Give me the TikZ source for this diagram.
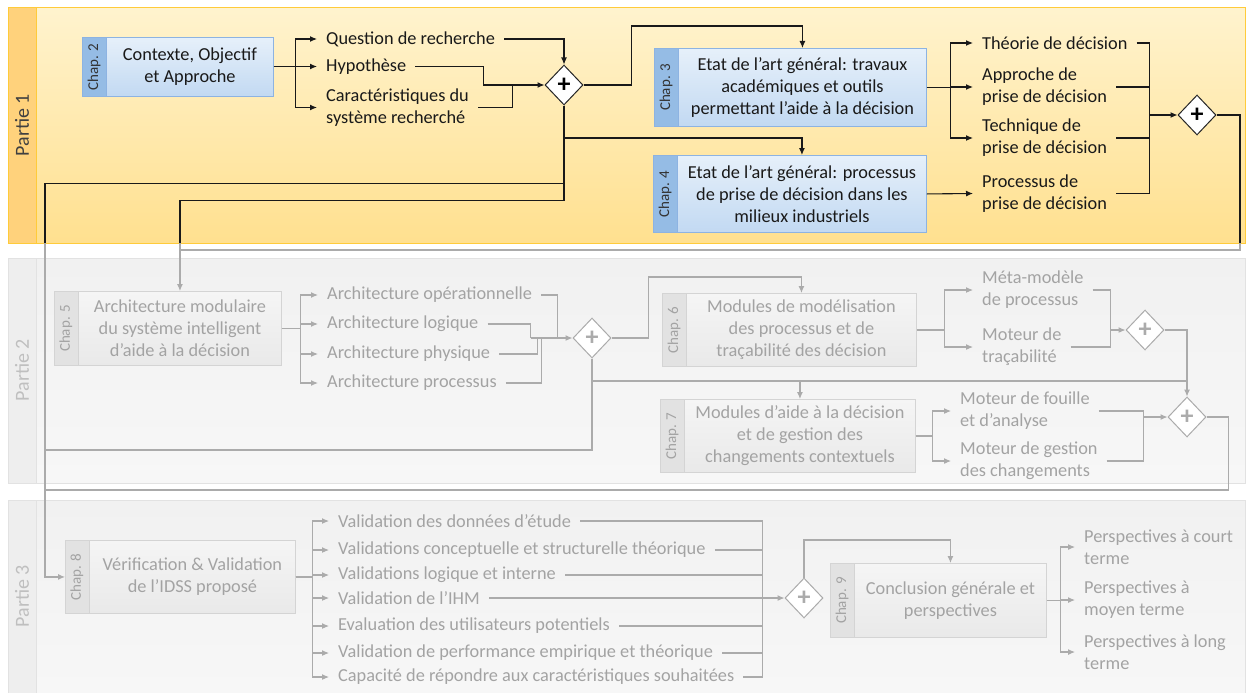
\documentclass[tikz,border=0pt]{standalone}
\usepackage{fontspec}
\setmainfont{Carlito}
\usetikzlibrary{arrows.meta,shapes.geometric,calc}
\definecolor{p1top}{HTML}{FFF3CE}
\definecolor{p1bot}{HTML}{FFE08F}
\definecolor{p1head}{HTML}{FFD27C}
\definecolor{p1edge}{HTML}{FFCB3A}
\definecolor{btop}{HTML}{E6F0FA}
\definecolor{bbot}{HTML}{C2D9F2}
\definecolor{bedge}{HTML}{8DB3E2}
\definecolor{bstrip}{HTML}{95BCE5}
\definecolor{gbandtop}{HTML}{F1F1F1}
\definecolor{gbandbot}{HTML}{F7F7F7}
\definecolor{ghead}{HTML}{EEEEEE}
\definecolor{gedge}{HTML}{E2E2E2}
\definecolor{gtxt}{HTML}{A3A3A3}
\definecolor{gline}{HTML}{ABABAB}
\definecolor{gboxtop}{HTML}{F5F5F5}
\definecolor{gboxbot}{HTML}{E9E9E9}
\definecolor{gboxedge}{HTML}{D4D4D4}
\definecolor{gstrip}{HTML}{E2E2E2}
\definecolor{ptxt}{HTML}{BFBFBF}
\newcommand\chapbox[8]{%
  \node[bx#8, minimum width=#4, minimum height=#5] (#1) at (#2,#3) {};
  \path[strip#8] (#1.north west) rectangle ([xshift=24pt]#1.south west);
  \node[chap#8] (#1c) at ($(#1.west)+(12,0)$) {Chap. #6};
  \node[btxt#8] (#1t) at ($(#1.center)+(12,0)$) {#7};
}
\begin{document}
\begin{tikzpicture}[x=1pt,y=-1pt,
  band1/.style={top color=p1top, bottom color=p1bot, draw=p1edge, line width=1pt},
  head1/.style={fill=p1head, draw=p1edge, line width=1pt},
  band2/.style={top color=gbandtop, bottom color=gbandbot, draw=gedge, line width=1pt},
  head2/.style={fill=ghead, draw=gedge, line width=1pt},
  ptitle1/.style={rotate=90, font=\fontsize{20}{20}\selectfont, text=black!75},
  ptitle2/.style={rotate=90, font=\fontsize{20}{20}\selectfont, text=ptxt},
  bx1/.style={draw=bedge, top color=btop, bottom color=bbot, line width=0.9pt, inner sep=0pt, anchor=north west},
  bx2/.style={draw=gboxedge, top color=gboxtop, bottom color=gboxbot, line width=0.9pt, inner sep=0pt, anchor=north west},
  strip1/.style={fill=bstrip, draw=bedge, line width=0.9pt},
  strip2/.style={fill=gstrip, draw=gboxedge, line width=0.9pt},
  chap1/.style={rotate=90, inner sep=0pt, font=\fontsize{15}{15}\selectfont, text=black!80},
  chap2/.style={rotate=90, inner sep=0pt, font=\fontsize{15}{15}\selectfont, text=gtxt},
  btxt1/.style={align=center, inner sep=0pt, font=\fontsize{18.3}{22}\selectfont, text=black!90},
  btxt2/.style={align=center, inner sep=0pt, font=\fontsize{18.3}{22}\selectfont, text=gtxt},
  it1/.style={anchor=west, align=left, inner sep=0pt, font=\fontsize{18.3}{22}\selectfont, text=black!90},
  it2/.style={anchor=west, align=left, inner sep=0pt, font=\fontsize{18.3}{22}\selectfont, text=gtxt},
  gate1/.style={diamond, draw=black!85, fill=white, line width=1pt, minimum width=38, minimum height=40, inner sep=0pt, font=\fontsize{26}{26}\selectfont\bfseries, text=black},
  gate2/.style={diamond, draw=gline, fill=white, line width=1pt, minimum width=38, minimum height=40, inner sep=0pt, font=\fontsize{26}{26}\selectfont\bfseries, text=gline},
  l1/.style={draw=black!90, line width=1.1pt},
  a1/.style={l1, -{Latex[length=7pt,width=6pt]}},
  l2/.style={draw=gline, line width=1.1pt},
  a2/.style={l2, -{Latex[length=7pt,width=6pt]}}
]
\useasboundingbox (0,0) rectangle (1247,693);
% ---------- bands ----------
\path[band1] (8,8) rectangle (1245,243);
\path[head1] (8,8) rectangle (36,243);
\node[ptitle1] (P1) at (22,125) {Partie 1};
\path[band2] (8,258) rectangle (1245,483);
\path[head2] (8,258) rectangle (36,483);
\node[ptitle2] (P2) at (22,370) {Partie 2};
\path[band2] (8,500) rectangle (1245,693);
\path[head2] (8,500) rectangle (36,693);
\node[ptitle2] (P3) at (22,596) {Partie 3};
% ---------- chapter boxes ----------
\chapbox{c2}{82}{37}{191}{59}{2}{Contexte, Objectif\\et Approche}{1}
\chapbox{c3}{654}{48}{272}{78}{3}{Etat de l’art général: travaux\\académiques et outils\\permettant l’aide à la décision}{1}
\chapbox{c4}{653}{155}{273}{77}{4}{Etat de l’art général: processus\\de prise de décision dans les\\milieux industriels}{1}
\chapbox{c5}{54}{291}{227}{74}{5}{Architecture modulaire\\du système intelligent\\d’aide à la décision}{2}
\chapbox{c6}{662}{293}{254}{73}{6}{Modules de modélisation\\des processus et de\\traçabilité des décision}{2}
\chapbox{c7}{660}{399}{255}{73}{7}{Modules d’aide à la décision\\et de gestion des\\changements contextuels}{2}
\chapbox{c8}{65}{540}{230}{73}{8}{Vérification \& Validation\\de l’IDSS proposé}{2}
\chapbox{c9}{830}{563}{216}{74}{9}{Conclusion générale et\\perspectives}{2}
% ---------- items ----------
\node[it1] (qr) at (326,39) {Question de recherche};
\node[it1] (hy) at (326,66.5) {Hypothèse};
\node[it1] (ca) at (326,107.5) {Caractéristiques du\\système recherché};
\node[it1] (th) at (982,43) {Théorie de décision};
\node[it1] (ap) at (982,87) {Approche de\\prise de décision};
\node[it1] (te) at (982,138) {Technique de\\prise de décision};
\node[it1] (pr) at (982,193.5) {Processus de\\prise de décision};
\node[it2] (op) at (327,295) {Architecture opérationnelle};
\node[it2] (lo) at (327,324) {Architecture logique};
\node[it2] (ph) at (327,354) {Architecture physique};
\node[it2] (ps) at (327,383) {Architecture processus};
\node[it2] (mm) at (982,290) {Méta-modèle\\de processus};
\node[it2] (mt) at (982,347) {Moteur de\\traçabilité};
\node[it2] (mf) at (960,411) {Moteur de fouille\\et d’analyse};
\node[it2] (mg) at (960,461) {Moteur de gestion\\des changements};
\node[it2] (v1) at (338,521) {Validation des données d’étude};
\node[it2] (v2) at (338,550) {Validations conceptuelle et structurelle théorique};
\node[it2] (v3) at (338,575) {Validations logique et interne};
\node[it2] (v4) at (338,598) {Validation de l’IHM};
\node[it2] (v5) at (338,626) {Evaluation des utilisateurs potentiels};
\node[it2] (v6) at (338,653) {Validation de performance empirique et théorique};
\node[it2] (v7) at (338,677) {Capacité de répondre aux caractéristiques souhaitées};
\node[it2] (pc) at (1084,547) {Perspectives à court\\terme};
\node[it2] (pm) at (1084,600) {Perspectives à\\moyen terme};
\node[it2] (pl) at (1084,652) {Perspectives à long\\terme};
% ---------- gateways ----------
\node[gate1] (g1) at (564,85) {+};
\node[gate1] (g2) at (1197,115) {+};
\node[gate2] (g3) at (592,338) {+};
\node[gate2] (g4) at (1145,330) {+};
\node[gate2] (g5) at (1187,417) {+};
\node[gate2] (g6) at (804,598) {+};
% ---------- Partie 1 connectors ----------
\draw[a1] (c2.east) -- ++(22,0) |- ([xshift=-9pt]qr.west);
\draw[a1] (c2.east) -- ++(22,0) |- ([xshift=-9pt]hy.west);
\draw[a1] (c2.east) -- ++(22,0) |- ([xshift=-9pt]ca.west);
\draw[a1] ([xshift=9pt]qr.east) -| (g1.north);
\draw[a1] ([xshift=9pt]hy.east) -| ($(g1.west)+(-61,0)$) -- (g1.west);
\draw[l1] ([xshift=9pt]ca.east) -| ($(g1.west)+(-32,0)$);
\draw[a1] (g1.east) -- ++(48,0) |- ($(c3t|-c3.north)+(0,-22)$) -- (c3t|-c3.north);
\draw[a1] (g1.south) |- ($(c4t|-c4.north)+(0,-17)$) -- (c4t|-c4.north);
\coordinate (k1) at (45,243);
\coordinate (k2) at (c5t|-k1);
\coordinate (k3) at (1240,243);
\draw[l1] (g1.south) -- ++(0,78) -| (k1);
\draw[l1] (g1.south) -- ++(0,95) -| (k2);
\draw[a1] (c3.east) -- ++(24,0) |- ([xshift=-9pt]th.west);
\draw[a1] (c3.east) -- ++(24,0) |- ([xshift=-9pt]ap.west);
\draw[a1] (c3.east) -- ++(24,0) |- ([xshift=-9pt]te.west);
\draw[a1] (c4.east) -- ([xshift=-9pt]pr.west);
\coordinate (m2) at ($(g2.west)+(-28,0)$);
\draw[l1] ([xshift=9pt]th.east) -| (m2);
\draw[l1] ([xshift=9pt]ap.east) -| (m2);
\draw[l1] ([xshift=9pt]te.east) -| (m2);
\draw[l1] ([xshift=9pt]pr.east) -| (m2);
\draw[a1] (m2) -- (g2.west);
\draw[l1] (g2.east) -| (k3);
% ---------- links leaving Partie 1 ----------
\draw[l2] (k3) |- ($(k2)+(0,7)$);
\draw[a2] (k2) -- (c5t|-c5.north);
\draw[a2] (k1) |- (c8.west);
% ---------- Partie 2 connectors ----------
\draw[a2] (c5.east) -- ++(19,0) |- ([xshift=-9pt]op.west);
\draw[a2] (c5.east) -- ++(19,0) |- ([xshift=-9pt]lo.west);
\draw[a2] (c5.east) -- ++(19,0) |- ([xshift=-9pt]ph.west);
\draw[a2] (c5.east) -- ++(19,0) |- ([xshift=-9pt]ps.west);
\draw[l2] ([xshift=9pt]op.east) -| ($(g3.west)+(-15,0)$);
\draw[l2] ([xshift=9pt]lo.east) -| ($(g3.west)+(-42,0)$);
\draw[l2] ([xshift=9pt]ph.east) -| ($(g3.west)+(-35,0)$);
\draw[l2] ([xshift=9pt]ps.east) -| ($(g3.west)+(-31,0)$);
\draw[a2] ($(g3.west)+(-42,0)$) -- (g3.west);
\draw[a2] (g3.east) -- ++(37,0) |- ($(c6t|-c6.north)+(0,-16)$) -- (c6t|-c6.north);
\draw[l2] (g3.south) |- ($(k1)+(0,207)$);
\coordinate (j1) at ($(c7t|-c7.north)+(0,-18)$);
\draw[a2] (g3.south) |- (j1) -- (c7t|-c7.north);
\draw[l2] (j1) -- (j1-|g5);
\draw[a2] (c6.east) -- ++(28,0) |- ([xshift=-9pt]mm.west);
\draw[a2] (c6.east) -- ++(28,0) |- ([xshift=-9pt]mt.west);
\coordinate (m4) at ($(g4.west)+(-15,0)$);
\draw[l2] ([xshift=9pt]mm.east) -| (m4);
\draw[l2] ([xshift=9pt]mt.east) -| (m4);
\draw[a2] (m4) -- (g4.west);
\draw[a2] (g4.east) -| (g5.north);
\draw[a2] (c7.east) -- ++(17,0) |- ([xshift=-9pt]mf.west);
\draw[a2] (c7.east) -- ++(17,0) |- ([xshift=-9pt]mg.west);
\coordinate (m5) at ($(g5.west)+(-24,0)$);
\draw[l2] ([xshift=9pt]mf.east) -| (m5);
\draw[l2] ([xshift=9pt]mg.east) -| (m5);
\draw[a2] (m5) -- (g5.west);
\draw[l2] (g5.east) -- ++(22,0) |- ($(k1)+(0,247)$);
% ---------- Partie 3 connectors ----------
\foreach \v in {v1,v2,v3,v4,v5,v6,v7}{
  \draw[a2] (c8.east) -- ++(17,0) |- ([xshift=-9pt]\v.west);
}
\coordinate (m6) at ($(g6.west)+(-22,0)$);
\foreach \v in {v1,v2,v3,v5,v6,v7}{
  \draw[l2] ([xshift=9pt]\v.east) -| (m6);
}
\draw[a2] ([xshift=9pt]v4.east) -- (g6.west);
\draw[a2] (g6.north) |- ($(c9t|-c9.north)+(0,-23)$) -- (c9t|-c9.north);
\draw[a2] (c9.east) -- ++(14,0) |- ([xshift=-9pt]pc.west);
\draw[a2] (c9.east) -- ++(14,0) |- ([xshift=-9pt]pm.west);
\draw[a2] (c9.east) -- ++(14,0) |- ([xshift=-9pt]pl.west);
\end{tikzpicture}
\end{document}
